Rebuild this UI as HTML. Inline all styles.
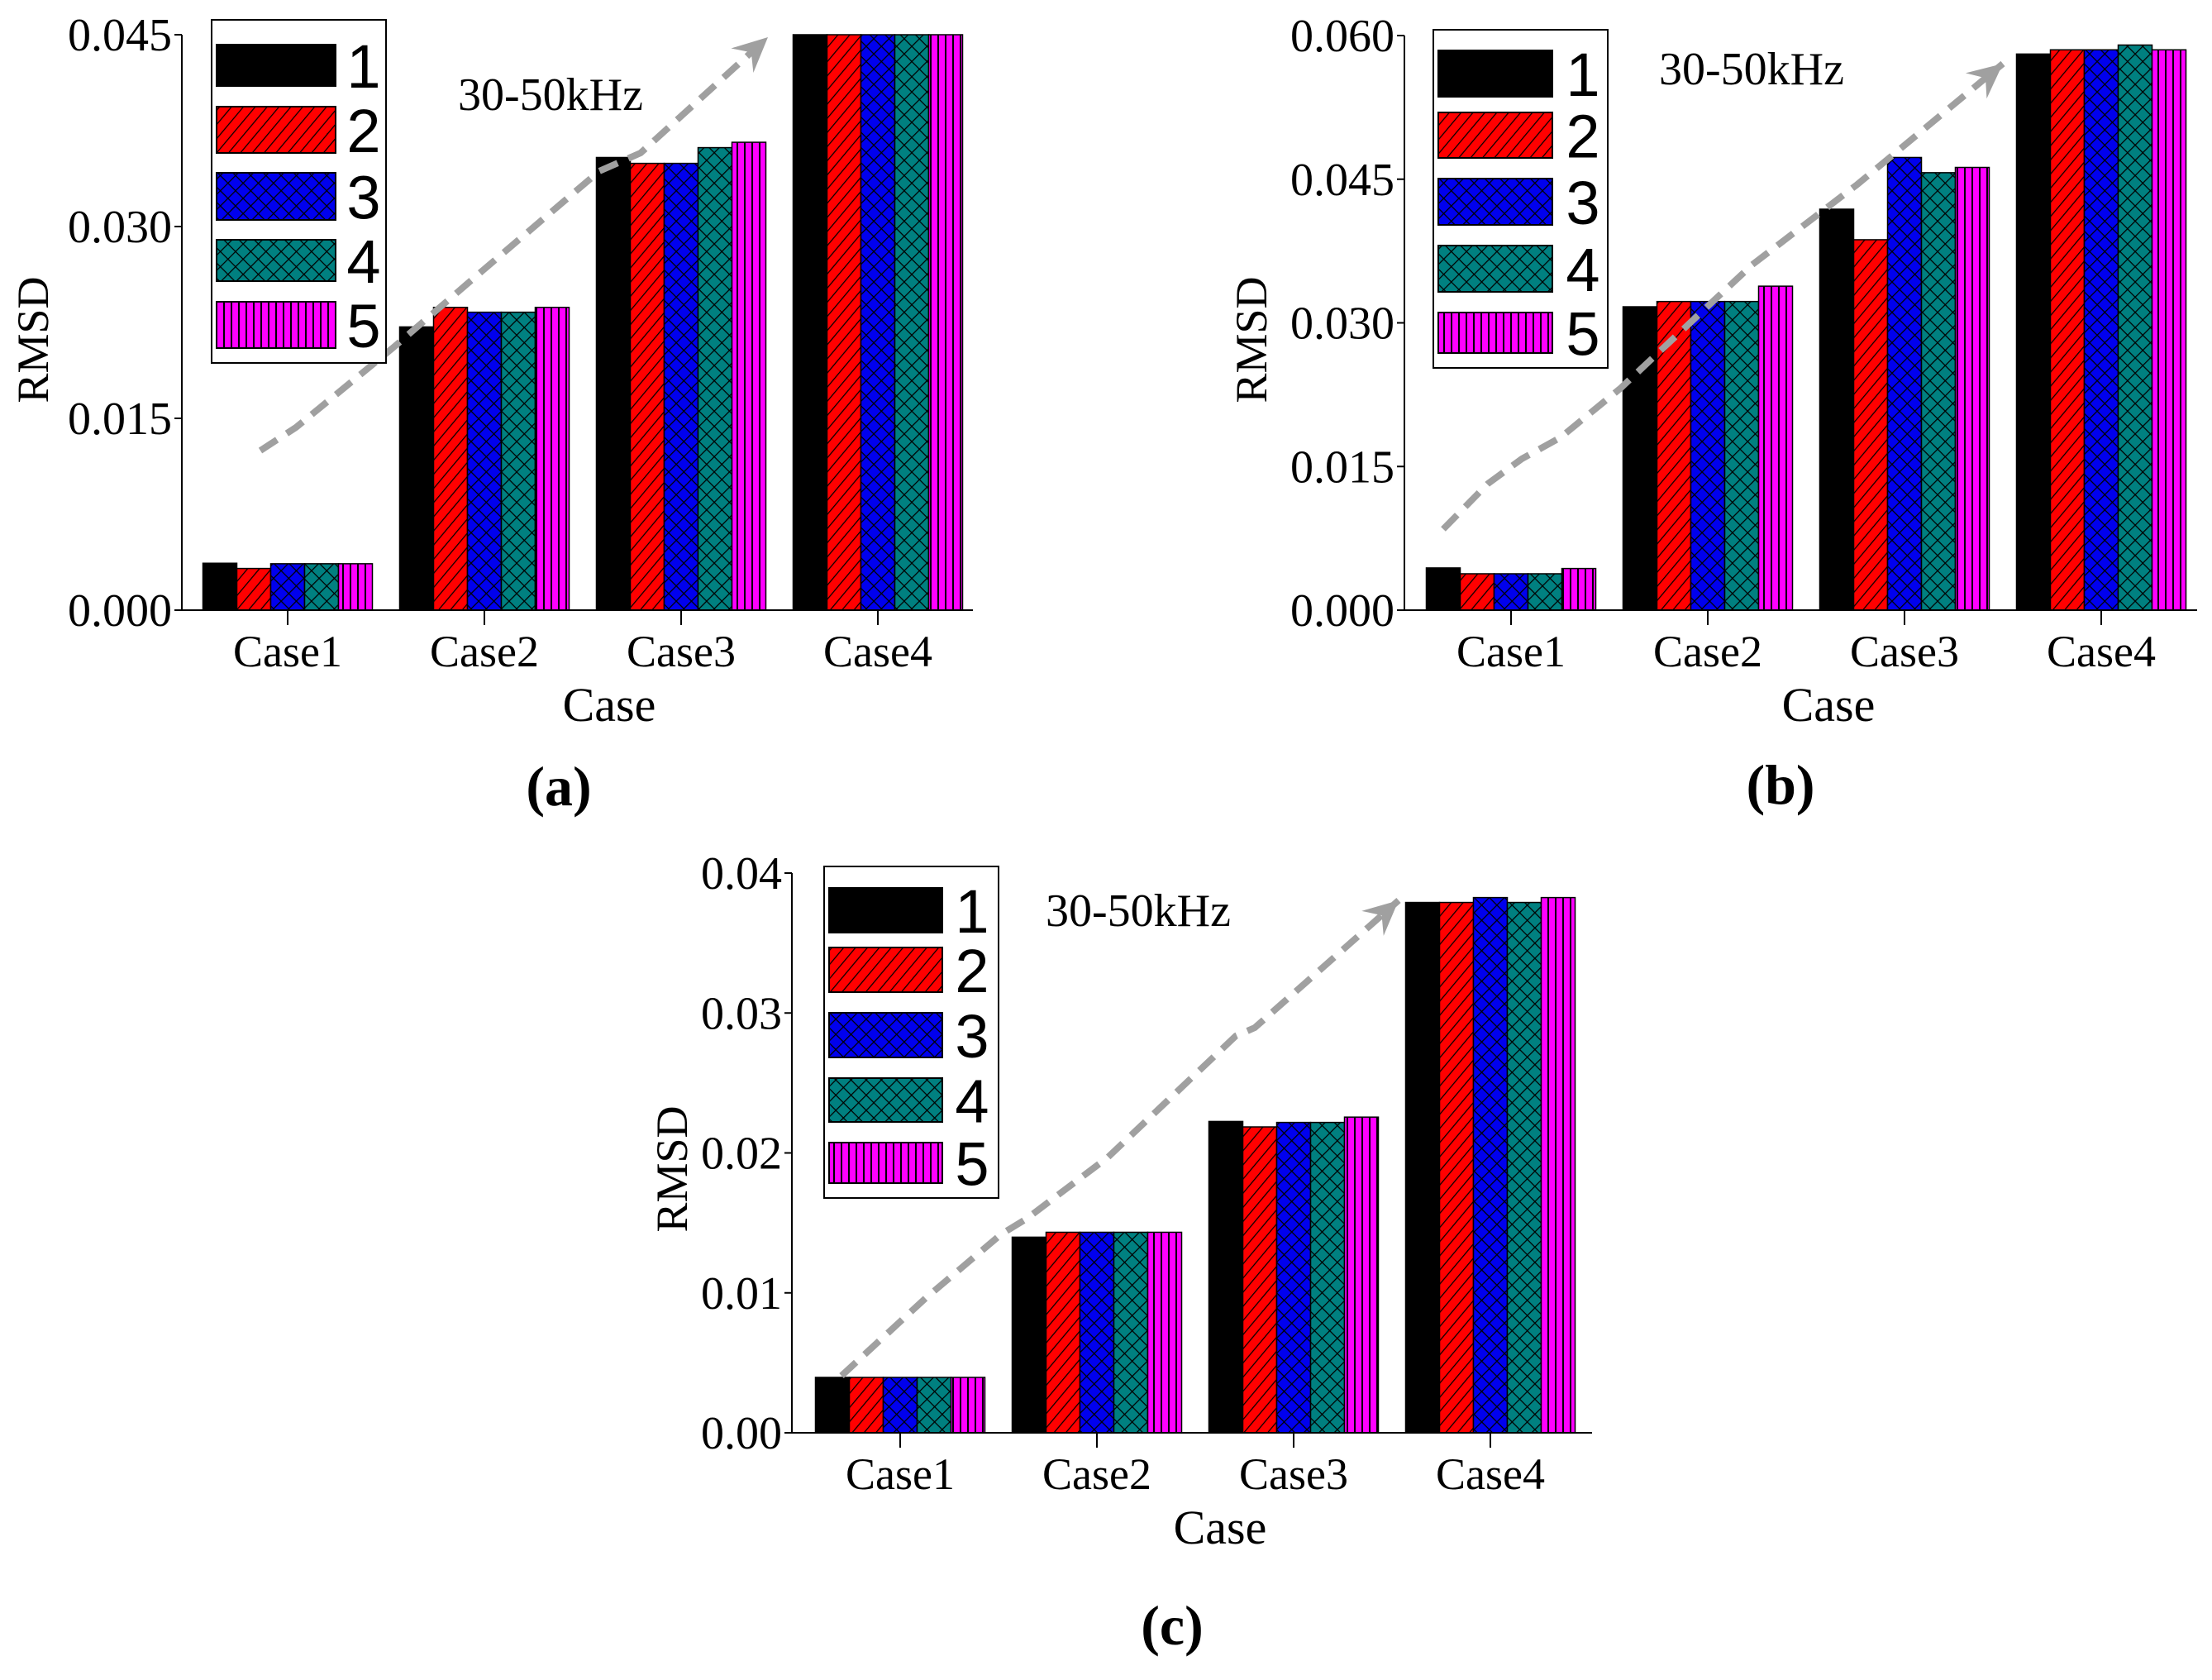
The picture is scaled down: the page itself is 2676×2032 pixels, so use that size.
<!DOCTYPE html>
<html><head><meta charset="utf-8">
<style>
html,body{margin:0;padding:0;background:#fff;}
svg{display:block;}
</style></head>
<body>
<svg id="fig" width="2676" height="2032" viewBox="0 0 2676 2032" xmlns="http://www.w3.org/2000/svg">
<defs>
<pattern id="p2" patternUnits="userSpaceOnUse" width="11" height="11" patternTransform="rotate(40)"><rect width="11" height="11" fill="#ff0000"/><line x1="0" y1="0" x2="0" y2="11" stroke="#000" stroke-width="2.5"/></pattern>
<pattern id="p3" patternUnits="userSpaceOnUse" width="13" height="13" patternTransform="rotate(45)"><rect width="13" height="13" fill="#0000ee"/><line x1="0" y1="0" x2="0" y2="13" stroke="#000" stroke-width="2.5"/><line x1="0" y1="0" x2="13" y2="0" stroke="#000" stroke-width="2.5"/></pattern>
<pattern id="p4" patternUnits="userSpaceOnUse" width="13" height="13" patternTransform="rotate(45)"><rect width="13" height="13" fill="#008080"/><line x1="0" y1="0" x2="0" y2="13" stroke="#000" stroke-width="2.5"/><line x1="0" y1="0" x2="13" y2="0" stroke="#000" stroke-width="2.5"/></pattern>
<pattern id="p5" patternUnits="userSpaceOnUse" width="9" height="9"><rect width="9" height="9" fill="#ff00ff"/><line x1="1" y1="0" x2="1" y2="9" stroke="#000" stroke-width="2"/></pattern>
</defs>
</svg>
<script>
const categories = ["Case1","Case2","Case3","Case4"];
const seriesNames = ["1","2","3","4","5"];
// panel (a)
const aS1 = [0.00367, 0.02215, 0.0354, 0.045];
const aS2 = [0.00326, 0.02368, 0.03494, 0.045];
const aS3 = [0.00363, 0.0233, 0.03494, 0.045];
const aS4 = [0.00363, 0.0233, 0.03617, 0.045];
const aS5 = [0.00363, 0.02368, 0.03659, 0.045];
const aTicks = [0, 0.015, 0.03, 0.045];
const aTickLabels = ["0.000","0.015","0.030","0.045"];
// panel (b)
const bS1 = [0.00441, 0.03168, 0.04187, 0.05807];
const bS2 = [0.0038, 0.03223, 0.03868, 0.05851];
const bS3 = [0.0038, 0.03223, 0.04727, 0.05851];
const bS4 = [0.0038, 0.03223, 0.04568, 0.05901];
const bS5 = [0.00435, 0.03383, 0.04623, 0.05851];
const bTicks = [0, 0.015, 0.03, 0.045, 0.06];
const bTickLabels = ["0.000","0.015","0.030","0.045","0.060"];
// panel (c)
const cS1 = [0.00396, 0.01398, 0.02225, 0.0379];
const cS2 = [0.00396, 0.01433, 0.02186, 0.0379];
const cS3 = [0.00396, 0.01433, 0.02218, 0.03825];
const cS4 = [0.00396, 0.01433, 0.02218, 0.0379];
const cS5 = [0.00396, 0.01433, 0.02256, 0.03825];
const cTicks = [0, 0.01, 0.02, 0.03, 0.04];
const cTickLabels = ["0.00","0.01","0.02","0.03","0.04"];

const NS = "http://www.w3.org/2000/svg";
const svg = document.getElementById("fig");
const fills = ["#000000","url(#p2)","url(#p3)","url(#p4)","url(#p5)"];
function mk(tag, attrs, parent, text){
  const e = document.createElementNS(NS, tag);
  for (const k in attrs) e.setAttribute(k, attrs[k]);
  if (text !== undefined) e.textContent = text;
  (parent || svg).appendChild(e);
  return e;
}
const SERIF = '"Liberation Serif", serif';
const SANS = '"Liberation Sans", sans-serif';

function drawPanel(p){
  const g = mk("g", {});
  
  
  const y = v => p.bottom - (v / p.ymax) * (p.bottom - p.top);
  const xc = i => p.x0 + p.band * (i + 0.5);
  const bw = 41;
  p.series.forEach((vals, s) => {
    vals.forEach((v, i) => {
      const bx = xc(i) - 2.5 * bw + s * bw;
      const r = mk("rect", {x: bx, y: y(v), width: bw, height: p.bottom - y(v), fill: fills[s], stroke: "#000", "stroke-width": 1.5}, g);
      
      
    });
  });
  const ya = mk("line", {x1: p.ax, y1: p.top, x2: p.ax, y2: p.bottom, stroke: "#000", "stroke-width": 2}, g);
  
  
  const xa = mk("line", {x1: p.ax, y1: p.bottom, x2: p.xend, y2: p.bottom, stroke: "#000", "stroke-width": 2}, g);
  
  
  p.ticks.forEach((t, k) => {
    mk("line", {x1: p.ax - 9, y1: y(t), x2: p.ax, y2: y(t), stroke: "#000", "stroke-width": 2}, g);
    const tl = mk("text", {x: p.ax - 12, y: y(t) + 19, "text-anchor": "end", "font-family": SERIF, "font-size": 56}, g, p.tickLabels[k]);
    
    
  });
  categories.forEach((c, i) => {
    mk("line", {x1: xc(i), y1: p.bottom, x2: xc(i), y2: p.bottom + 18, stroke: "#000", "stroke-width": 2}, g);
    const cl = mk("text", {x: xc(i), y: p.bottom + 68, "text-anchor": "middle", "font-family": SERIF, "font-size": 54}, g, c);
    
    
  });
  const xt = mk("text", {x: p.xtitle, y: p.bottom + 134, "text-anchor": "middle", "font-family": SERIF, "font-size": 58}, g, "Case");
  
  
  const yt = mk("text", {x: 0, y: 0, "text-anchor": "middle", "font-family": SERIF, "font-size": 54, transform: "translate(" + p.ytx + "," + p.yty + ") rotate(-90)"}, g, "RMSD");
  
  
  const pl = mk("text", {x: p.plx, y: p.ply, "text-anchor": "middle", "font-family": SERIF, "font-size": 68, "font-weight": "bold"}, g, p.label);
  
  
  const ar = mk("polyline", {points: p.arrow.map(q => q.join(",")).join(" "), fill: "none", stroke: "#a0a0a0", "stroke-width": 8, "stroke-dasharray": "24 14", "stroke-linecap": "butt"}, g);
  
  
  const n = p.arrow.length, a = p.arrow[n-1], b = p.arrow[n-2];
  const ang = Math.atan2(a[1]-b[1], a[0]-b[0]);
  const L = 42, W = 20;
  const bx = a[0] - L*Math.cos(ang), by = a[1] - L*Math.sin(ang);
  const px = -Math.sin(ang)*W, py = Math.cos(ang)*W;
  const ah = mk("polygon", {points: a[0]+","+a[1]+" "+(bx+px)+","+(by+py)+" "+(bx+0.35*(a[0]-bx))+","+(by+0.35*(a[1]-by))+" "+(bx-px)+","+(by-py), fill: "#a0a0a0"}, g);
  
  
  const ft = mk("text", {x: p.ftx, y: p.fty, "font-family": SERIF, "font-size": 56}, g, "30-50kHz");
  
  
  const lg = mk("g", {}, g);
  
  
  mk("rect", {x: p.leg.x, y: p.leg.y, width: p.leg.w, height: p.leg.h, fill: "#fff", stroke: "#000", "stroke-width": 2}, lg);
  seriesNames.forEach((s, k) => {
    const r = p.leg.rows[k];
    const sw = mk("rect", {x: p.leg.sx, y: r[0], width: p.leg.sw, height: r[1]-r[0], fill: fills[k], stroke: "#000", "stroke-width": 2}, lg);
    
    
    const lt = mk("text", {x: p.leg.nx, y: (r[0]+r[1])/2 + 27, "text-anchor": "middle", "font-family": SANS, "font-size": 74}, lg, s);
    
    
  });
}

drawPanel({id:"a", label:"(a)", series:[aS1,aS2,aS3,aS4,aS5], ymax:0.045, ticks:aTicks, tickLabels:aTickLabels,
  top:42, bottom:738, ax:220, xend:1177, x0:229, band:238, xtitle:737, ytx:58, yty:411, plx:676, ply:974,
  arrow:[[315,545],[358,517],[475,421],[583,328],[725,207],[775,185],[929,45]],
  ftx:554, fty:133,
  leg:{x:256,y:24,w:211,h:415,sx:262,sw:144,nx:440,rows:[[54,104],[129,185],[209,266],[290,340],[365,421]]}});

drawPanel({id:"b", label:"(b)", series:[bS1,bS2,bS3,bS4,bS5], ymax:0.06, ticks:bTicks, tickLabels:bTickLabels,
  top:43, bottom:738, ax:1699, xend:2658, x0:1709, band:238, xtitle:2212, ytx:1532, yty:411, plx:2154, ply:972,
  arrow:[[1746,640],[1800,585],[1841,555],[1888,529],[1960,470],[2060,376],[2120,320],[2247,223],[2423,77]],
  ftx:2007, fty:102,
  leg:{x:1734,y:36,w:211,h:409,sx:1740,sw:138,nx:1915,rows:[[61,117],[136,191],[216,272],[297,353],[378,427]]}});

drawPanel({id:"c", label:"(c)", series:[cS1,cS2,cS3,cS4,cS5], ymax:0.04, ticks:cTicks, tickLabels:cTickLabels,
  top:1056, bottom:1733, ax:958, xend:1926, x0:970, band:238, xtitle:1476, ytx:831, yty:1414, plx:1418, ply:1989,
  arrow:[[1018,1664],[1120,1570],[1211,1493],[1242,1474],[1340,1400],[1495,1253],[1518,1243],[1692,1089]],
  ftx:1265, fty:1120,
  leg:{x:997,y:1048,w:211,h:401,sx:1003,sw:137,nx:1176,rows:[[1074,1128],[1146,1200],[1225,1279],[1304,1357],[1382,1431]]}});
</script>
</body></html>
